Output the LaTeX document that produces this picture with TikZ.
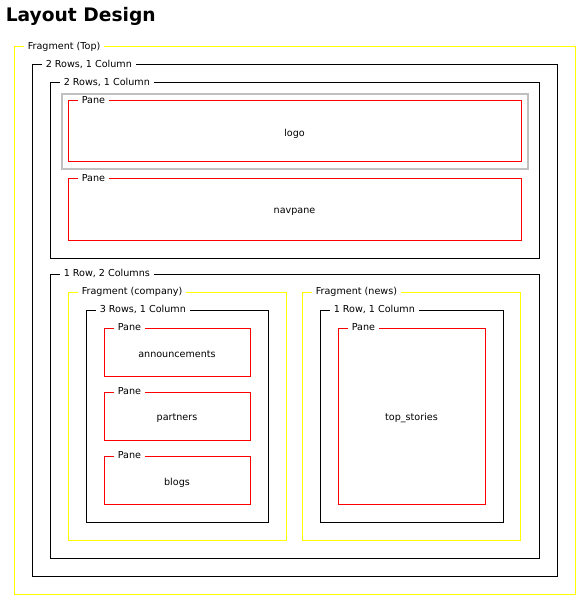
\documentclass[tikz,border=0pt]{standalone}
\usepackage{fontspec}
\setmainfont{DejaVu Sans}
\usetikzlibrary{positioning,fit}
\definecolor{fragyellow}{RGB}{255,255,0}
\definecolor{panered}{RGB}{255,0,0}
\definecolor{selgray}{RGB}{192,192,192}
\tikzset{
  box/.style={draw, inner sep=0pt, line width=0.75pt, font=\fontsize{7.2}{8.6}\selectfont},
  fragbox/.style={box, draw=fragyellow},
  layoutbox/.style={box, draw=black},
  panebox/.style={box, draw=panered},
  selbox/.style={box, draw=selgray, line width=1.5pt},
  tag/.style={fill=white, inner xsep=3pt, inner ysep=1pt, font=\fontsize{7.2}{8.6}\selectfont},
  content/.style={inner sep=0pt, yshift=-1.8pt, font=\fontsize{7.2}{8.6}\selectfont}
}
\begin{document}
\begin{tikzpicture}[x=0.75pt, y=-0.75pt]
        \useasboundingbox (0,0) rectangle (581,598);
        \node[anchor=base west, inner sep=0pt, font=\bfseries\fontsize{14}{16}\selectfont] (title) at (5.5,22) {Layout Design};

        \node[fragbox, fit={(14,47) (575,594)}] (top) {};
        \node[tag, right=7.5pt of top.north west] (toptag) {Fragment (Top)};
        \node[layoutbox, fit={(32,65) (557,576)}] (rows) {};
        \node[tag, right=7.5pt of rows.north west] (rowstag) {2 Rows, 1 Column};
        \node[layoutbox, fit={(50,83) (539,258)}] (head) {};
        \node[tag, right=7.5pt of head.north west] (headtag) {2 Rows, 1 Column};

        \node[selbox, fit={(62,94.5) (527.5,169.5)}] (sel) {};
        \node[panebox, fit={(68,101) (521,162)}] (logo) {};
        \node[tag, right=7.5pt of logo.north west] (logotag) {Pane};
        \node[content] (logotext) at (logo.center) {logo};
        \node[panebox, fit={(68,179) (521,240)}] (navpane) {};
        \node[tag, right=7.5pt of navpane.north west] (navtag) {Pane};
        \node[content] (navtext) at (navpane.center) {navpane};

        \node[layoutbox, fit={(50,274) (539,558)}] (cols) {};
        \node[tag, right=7.5pt of cols.north west] (colstag) {1 Row, 2 Columns};

        \node[fragbox, fit={(68,292) (286,540)}] (company) {};
        \node[tag, right=7.5pt of company.north west] (companytag) {Fragment (company)};
        \node[layoutbox, fit={(86,310) (268,522)}] (three) {};
        \node[tag, right=7.5pt of three.north west] (threetag) {3 Rows, 1 Column};
        \node[panebox, fit={(104,328) (250,376)}] (ann) {};
        \node[tag, right=7.5pt of ann.north west] (anntag) {Pane};
        \node[content] (anntext) at (ann.center) {announcements};
        \node[panebox, fit={(104,392) (250,440)}] (partners) {};
        \node[tag, right=7.5pt of partners.north west] (partnerstag) {Pane};
        \node[content] (partnerstext) at (partners.center) {partners};
        \node[panebox, fit={(104,456) (250,504)}] (blogs) {};
        \node[tag, right=7.5pt of blogs.north west] (blogstag) {Pane};
        \node[content] (blogstext) at (blogs.center) {blogs};

        \node[fragbox, fit={(302,292) (520,540)}] (news) {};
        \node[tag, right=7.5pt of news.north west] (newstag) {Fragment (news)};
        \node[layoutbox, fit={(320,310) (503,522)}] (single) {};
        \node[tag, right=7.5pt of single.north west] (singletag) {1 Row, 1 Column};
        \node[panebox, fit={(338,328) (485,504)}] (stories) {};
        \node[tag, right=7.5pt of stories.north west] (storiestag) {Pane};
        \node[content] (storiestext) at (stories.center) {top\_stories};
\end{tikzpicture}
\end{document}
